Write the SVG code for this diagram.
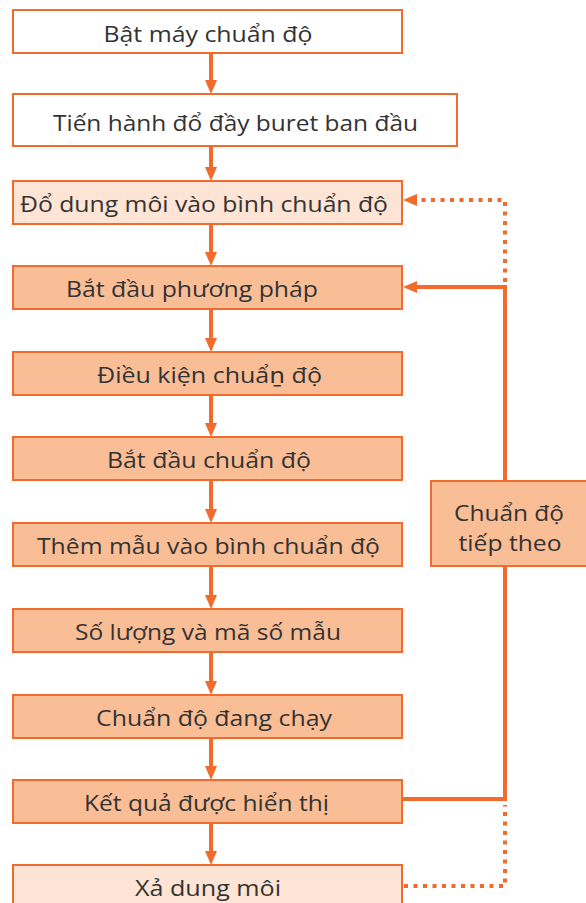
<svg xmlns="http://www.w3.org/2000/svg" width="586" height="903" viewBox="0 0 586 903">
<style>
.box{stroke:#F36B2C;stroke-width:2}
.w{fill:#FFFFFF}
.l{fill:#FDE4D4}
.m{fill:#FABE97}
.t{font-family:"Open Sans","DejaVu Sans",sans-serif;font-size:21px;fill:#333333;text-anchor:middle}
.c{stroke:#F36B2C;stroke-width:4;fill:none}
.d{stroke:#F36B2C;stroke-width:4;fill:none;stroke-dasharray:4 5.5}
</style>
<defs>
<marker id="ah" markerWidth="14" markerHeight="12" refX="6" refY="6" orient="auto" markerUnits="userSpaceOnUse">
<path d="M0,0 L14,6 L0,12 z" fill="#F36B2C"/>
</marker>
</defs>
<rect width="586" height="903" fill="#FFFFFF"/>
<g id="connectors">
<line class="c" x1="211" y1="53" x2="211" y2="86" marker-end="url(#ah)"/>
<line class="c" x1="211" y1="146" x2="211" y2="173" marker-end="url(#ah)"/>
<line class="c" x1="211" y1="224" x2="211" y2="258" marker-end="url(#ah)"/>
<line class="c" x1="211" y1="309" x2="211" y2="344" marker-end="url(#ah)"/>
<line class="c" x1="211" y1="395" x2="211" y2="429" marker-end="url(#ah)"/>
<line class="c" x1="211" y1="480" x2="211" y2="515" marker-end="url(#ah)"/>
<line class="c" x1="211" y1="566" x2="211" y2="601" marker-end="url(#ah)"/>
<line class="c" x1="211" y1="652" x2="211" y2="687" marker-end="url(#ah)"/>
<line class="c" x1="211" y1="738" x2="211" y2="772" marker-end="url(#ah)"/>
<line class="c" x1="211" y1="823" x2="211" y2="857" marker-end="url(#ah)"/>
<path class="c" d="M402,799 H505 V287 H411" marker-end="url(#ah)"/>
<path class="d" d="M404,886 H505 V805"/>
<path class="d" d="M505,282 V200 H411" marker-end="url(#ah)"/>
</g>
<g id="n1"><rect class="box w" x="13" y="10" width="389" height="43"/><text class="t" x="208" y="42" textLength="209" lengthAdjust="spacingAndGlyphs">Bật máy chuẩn độ</text></g>
<g id="n2"><rect class="box w" x="13" y="94" width="444" height="52"/><text class="t" x="235.5" y="131" textLength="365" lengthAdjust="spacingAndGlyphs">Tiến hành đổ đầy buret ban đầu</text></g>
<g id="n3"><rect class="box l" x="13" y="181" width="389" height="43"/><text class="t" x="204" y="212" textLength="368" lengthAdjust="spacingAndGlyphs">Đổ dung môi vào bình chuẩn độ</text></g>
<g id="n4"><rect class="box m" x="13" y="266" width="389" height="43"/><text class="t" x="192" y="297" textLength="252" lengthAdjust="spacingAndGlyphs">Bắt đầu phương pháp</text></g>
<g id="n5"><rect class="box m" x="13" y="352" width="389" height="43"/><text class="t" x="209.5" y="383" textLength="225" lengthAdjust="spacingAndGlyphs">Điều kiện chuẩṉ độ</text></g>
<g id="n6"><rect class="box m" x="13" y="437" width="389" height="43"/><text class="t" x="209" y="468" textLength="204" lengthAdjust="spacingAndGlyphs">Bắt đầu chuẩn độ</text></g>
<g id="n7"><rect class="box m" x="13" y="523" width="389" height="43"/><text class="t" x="208.5" y="554" textLength="343" lengthAdjust="spacingAndGlyphs">Thêm mẫu vào bình chuẩn độ</text></g>
<g id="n8"><rect class="box m" x="13" y="609" width="389" height="43"/><text class="t" x="208" y="640" textLength="266" lengthAdjust="spacingAndGlyphs">Số lượng và mã số mẫu</text></g>
<g id="n9"><rect class="box m" x="13" y="695" width="389" height="43"/><text class="t" x="214" y="726" textLength="236" lengthAdjust="spacingAndGlyphs">Chuẩn độ đang chạy</text></g>
<g id="n10"><rect class="box m" x="13" y="780" width="389" height="43"/><text class="t" x="206.5" y="811" textLength="245" lengthAdjust="spacingAndGlyphs">Kết quả được hiển thị</text></g>
<g id="n11"><rect class="box l" x="13" y="865" width="389" height="45"/><text class="t" x="208" y="896" textLength="146" lengthAdjust="spacingAndGlyphs">Xả dung môi</text></g>
<g id="n12"><rect class="box m" x="431" y="481" width="158" height="85"/><text class="t" x="509" y="521" textLength="110" lengthAdjust="spacingAndGlyphs">Chuẩn độ</text><text class="t" x="510" y="551" textLength="103" lengthAdjust="spacingAndGlyphs">tiếp theo</text></g>
</svg>
